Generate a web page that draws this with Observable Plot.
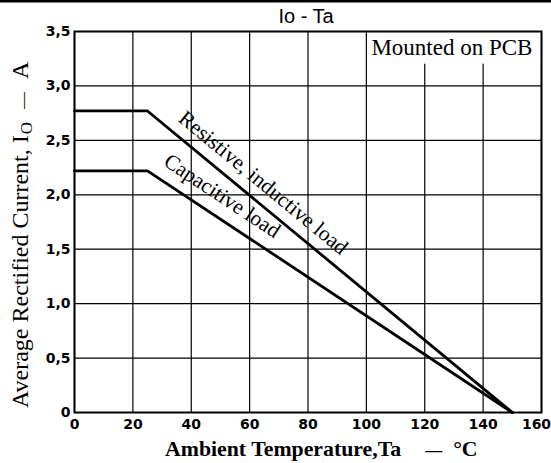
<!DOCTYPE html>
<html><head><meta charset="utf-8">
<script src="https://cdn.jsdelivr.net/npm/d3@7"></script>
<script src="https://cdn.jsdelivr.net/npm/@observablehq/plot@0.6"></script>
<style>
body{margin:0;background:#fff}
svg{display:block}
</style></head><body><div id="chart"></div>
<script>
// ---- data ----
const xTicks = [0, 20, 40, 60, 80, 100, 120, 140, 160];
const yTicks = [0, 0.5, 1, 1.5, 2, 2.5, 3, 3.5];
const yTickLabels = ["0", "0,5", "1,0", "1,5", "2,0", "2,5", "3,0", "3,5"];
const temps = [0, 25, 150];
const resistive = [2.77, 2.77, 0];
const capacitive = [2.22, 2.22, 0];
const seriesNames = ["Resistive, inductive load", "Capacitive load"];
const labelX = [64.7, 50.6];
const labelY = [2.11, 1.99];
const titleText = "Io - Ta";
const xTitleMain = "Ambient Temperature,Ta";
const xTitleDash = "—";
const xTitleUnit = "°C";
const yTitleMain = "Average Rectified Current, I";
const yTitleSub = "O";
const yTitleDash = "—";
const yTitleUnit = "A";
const noteText = "Mounted on PCB";
const noteBox = {x1: 100, x2: 160, y1: 3.2, y2: 3.5};

// ---- layout ----
const W = 551, H = 463, mL = 74, mR = 10, mT = 31, mB = 51;
const kx = (W - mL - mR) / 160, ky = (H - mT - mB) / 3.5;
function angle(vals) {
  const slope = (vals[1] - vals[2]) / (temps[2] - temps[1]);
  return Math.atan(slope * ky / kx) * 180 / Math.PI;
}
const rows = temps.map((t, i) => ({t, r: resistive[i], c: capacitive[i]}));
const labels = seriesNames.map((s, i) => ({
  text: s, x: labelX[i], y: labelY[i], rot: angle(i === 0 ? resistive : capacitive)
}));
const lastTick = xTicks[xTicks.length - 1];

const chart = Plot.plot({
  width: W, height: H,
  marginLeft: mL, marginRight: mR, marginTop: mT, marginBottom: mB,
  style: {fontFamily: "DejaVu Sans", fontWeight: "bold", fontSize: "14px", color: "black", background: "white"},
  x: {domain: [0, 160]},
  y: {domain: [0, 3.5]},
  marks: [
    Plot.ruleX(xTicks, {stroke: "black", strokeWidth: 1.2}),
    Plot.ruleY(yTicks, {stroke: "black", strokeWidth: 1.2}),
    Plot.rect([noteBox], {x1: "x1", x2: "x2", y1: "y1", y2: "y2", fill: "white", insetLeft: 1.5}),
    Plot.frame({stroke: "black", strokeWidth: 2}),
    Plot.line(rows, {x: "t", y: "r", stroke: "black", strokeWidth: 2.8}),
    Plot.line(rows, {x: "t", y: "c", stroke: "black", strokeWidth: 2.8}),
    Plot.text(labels, {x: "x", y: "y", text: "text", rotate: d => d.rot,
      fontFamily: "Liberation Serif", fontWeight: "normal", fontSize: 21.5, fill: "black"}),
    Plot.text([noteText], {x: noteBox.x1, y: noteBox.y2, text: d => d, textAnchor: "start", lineAnchor: "top",
      dx: 5, dy: 7, fontFamily: "Liberation Serif", fontWeight: "normal", fontSize: 23, fill: "black"}),
    Plot.axisX({ticks: xTicks.filter(t => t !== lastTick), tickSize: 0, tickPadding: 7, label: null}),
    Plot.axisX({ticks: [lastTick], tickSize: 0, tickPadding: 7, label: null, dx: -5}),
    Plot.axisY({ticks: yTicks, tickSize: 0, tickPadding: 4, label: null,
      tickFormat: d => yTickLabels[yTicks.indexOf(d)]})
  ]
});
document.getElementById("chart").appendChild(chart);

const svg = d3.select(chart);
svg.append("rect").attr("x", 0).attr("y", 0).attr("width", W).attr("height", 2.5).attr("fill", "black");
svg.append("text").attr("x", 306).attr("y", 23).attr("text-anchor", "middle")
  .attr("font-family", "Liberation Sans").attr("font-weight", "normal").attr("font-size", 20)
  .attr("fill", "black").text(titleText);

const xt = svg.append("text").attr("x", 165).attr("y", 456).attr("text-anchor", "start")
  .attr("font-family", "Liberation Serif").attr("font-weight", "bold").attr("font-size", 21.8)
  .attr("fill", "black");
xt.append("tspan").text(xTitleMain);
xt.append("tspan").attr("dx", 24).attr("font-size", 17).text(xTitleDash);
xt.append("tspan").attr("dx", 11).text(xTitleUnit);

const yt = svg.append("text").attr("transform", "translate(28,408) rotate(-90)").attr("text-anchor", "start")
  .attr("font-family", "Liberation Serif").attr("font-weight", "normal").attr("font-size", 24)
  .attr("fill", "black");
yt.append("tspan").text(yTitleMain);
yt.append("tspan").attr("font-size", 17).attr("dx", 1).attr("dy", 4).text(yTitleSub);
yt.append("tspan").attr("font-size", 17).attr("dx", 13).attr("dy", -4).text(yTitleDash);
yt.append("tspan").attr("dx", 13).text(yTitleUnit);
</script></body></html>
